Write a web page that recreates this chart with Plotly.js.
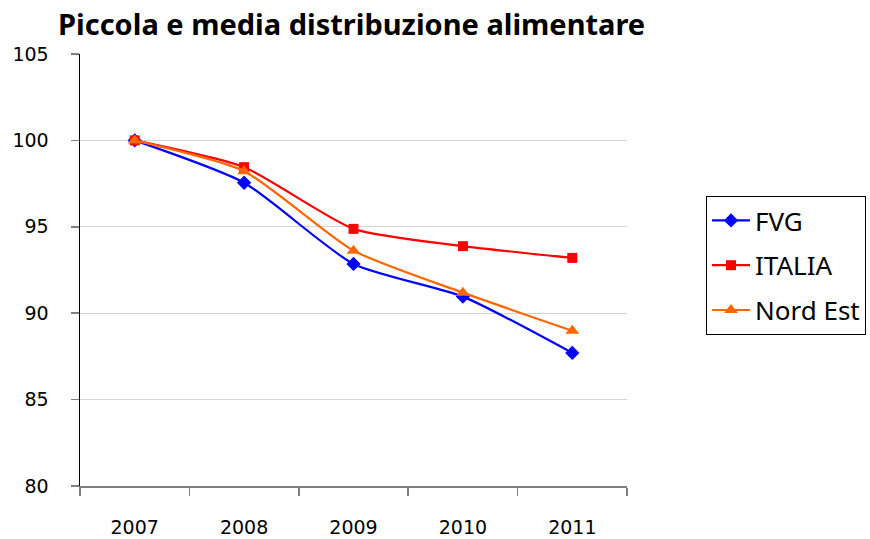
<!DOCTYPE html>
<html>
<head>
<meta charset="utf-8">
<script src="https://cdn.plot.ly/plotly-3.0.1.min.js"></script>
<style>html,body{margin:0;padding:0;background:#fff;}#chart{width:870px;height:539px;}</style>
</head>
<body>
<div id="chart"></div>
<script>
const years = ['2007', '2008', '2009', '2010', '2011'];
const fvg = [100, 97.55, 92.85, 90.96, 87.7];
const italia = [100, 98.45, 94.88, 93.88, 93.2];
const nordEst = [100, 98.22, 93.62, 91.19, 88.98];
const yTicks = [80, 85, 90, 95, 100, 105];

const traces = [
  {x: years, y: fvg, name: 'FVG', legendgroup: 'a', type: 'scatter', mode: 'lines+markers',
   line: {color: '#0000ff', width: 2.2, shape: 'spline', smoothing: 0.6},
   marker: {symbol: 'diamond', size: 11, color: '#0000ff'}},
  {x: years, y: italia, name: 'ITALIA', legendgroup: 'b', type: 'scatter', mode: 'lines+markers',
   line: {color: '#ff0000', width: 2.2, shape: 'spline', smoothing: 0.6},
   marker: {symbol: 'square', size: 10, color: '#ff0000'}},
  {x: years, y: nordEst, name: 'Nord Est', legendgroup: 'c', type: 'scatter', mode: 'lines+markers',
   line: {color: '#ff6600', width: 2.2, shape: 'spline', smoothing: 0.6},
   marker: {symbol: 'triangle-up', size: 12, color: '#ff6600'}}
];

const layout = {
  width: 870, height: 539,
  margin: {l: 80, r: 243, t: 54, b: 53, autoexpand: false},
  paper_bgcolor: '#fff', plot_bgcolor: '#fff',
  title: {text: '<b>Piccola e media distribuzione alimentare</b>', x: 58/870, xanchor: 'left', y: 1 - 25/539, yanchor: 'middle',
          font: {family: 'Noto Sans, sans-serif', size: 29, color: '#000'}},
  xaxis: {type: 'category', range: [-0.5, 4.5], tickson: 'boundaries', ticks: 'outside', ticklen: 8,
          tickcolor: '#808080', tickwidth: 1.5, showline: true, linecolor: '#808080', linewidth: 1.5,
          showgrid: false, zeroline: false, ticklabelstandoff: 24,
          tickfont: {family: 'DejaVu Sans, sans-serif', size: 19, color: '#000'}},
  yaxis: {range: [80, 105], tickvals: yTicks, ticktext: yTicks.map(String), ticks: 'outside', ticklen: 8,
          tickcolor: '#808080', tickwidth: 1.5, showline: true, linecolor: '#000', linewidth: 1.5,
          showgrid: true, gridcolor: '#d4d4d4', gridwidth: 1, zeroline: false, ticklabelstandoff: 18,
          tickfont: {family: 'DejaVu Sans, sans-serif', size: 19, color: '#000'}},
  showlegend: true,
  legend: {x: 706/870, xref: 'container', xanchor: 'left', y: 1 - 196/539, yref: 'container', yanchor: 'top',
           bordercolor: '#000', borderwidth: 1, bgcolor: '#fff', tracegroupgap: 8, itemwidth: 38,
           font: {family: 'Noto Sans, sans-serif', size: 26, color: '#000'}}
};

Plotly.newPlot('chart', traces, layout, {displayModeBar: false, staticPlot: true});
</script>
</body>
</html>
